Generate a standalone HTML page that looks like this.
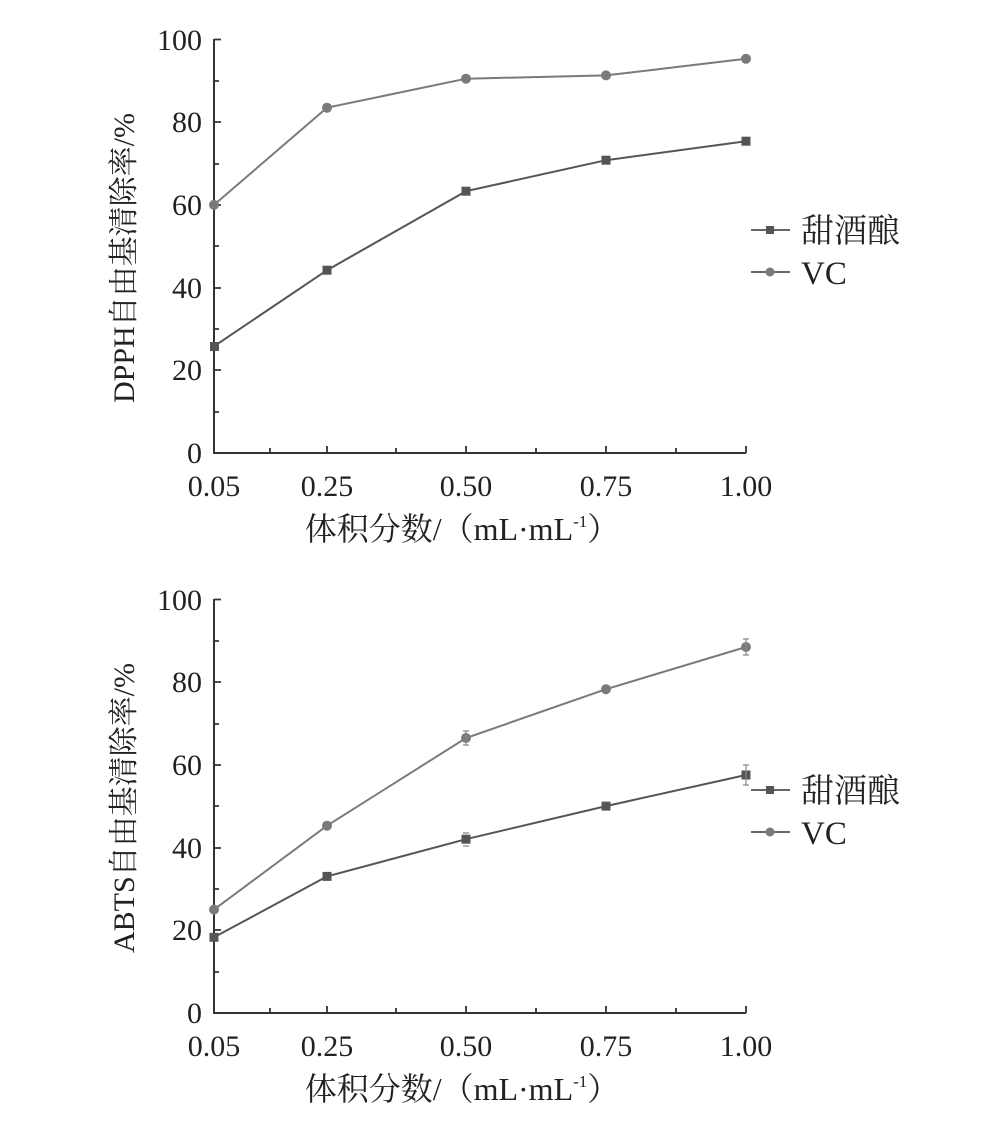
<!DOCTYPE html>
<html><head><meta charset="utf-8"><style>body{margin:0;background:#fff}</style></head><body>
<svg width="996" height="1121" viewBox="0 0 996 1121" xmlns="http://www.w3.org/2000/svg" font-family="Liberation Serif, Noto Serif CJK SC, serif" fill="#222">
<defs>
<g id="ax">
 <path d="M214 39V453H746" fill="none" stroke="#333" stroke-width="2"/>
 <g stroke="#333" stroke-width="1.8">
  <path d="M214 39.5h7M214 81h5M214 122h7M214 164h5M214 205h7M214 246h5M214 288h7M214 329h5M214 370h7M214 412h5"/>
  <path d="M270 453v-5M327 453v-7M396 453v-5M466 453v-7M536 453v-5M606 453v-7M676 453v-5M746 453v-7"/>
 </g>
 <g font-size="30" text-anchor="end">
  <text x="202" y="50">100</text><text x="202" y="132">80</text><text x="202" y="215">60</text><text x="202" y="298">40</text><text x="202" y="380">20</text><text x="202" y="463">0</text>
 </g>
 <g font-size="30" text-anchor="middle">
  <text x="214" y="496">0.05</text><text x="327" y="496">0.25</text><text x="466" y="496">0.50</text><text x="606" y="496">0.75</text><text x="746" y="496">1.00</text>
 </g>
 <text x="462" y="540" font-size="32" text-anchor="middle">体积分数/（mL·mL<tspan font-size="17" dy="-13">-1</tspan><tspan dy="13">）</tspan></text>
</g>
</defs>
<use href="#ax"/>
<text transform="translate(134,258) rotate(-90)" font-size="30" text-anchor="middle">DPPH自由基清除率/%</text>
<polyline points="214,204.9 327,107.7 466,78.7 606,75.4 746,58.8" fill="none" stroke="#7a7a7a" stroke-width="2"/>
<g fill="#7a7a7a"><circle cx="214" cy="204.9" r="5"/><circle cx="327" cy="107.7" r="5"/><circle cx="466" cy="78.7" r="5"/><circle cx="606" cy="75.4" r="5"/><circle cx="746" cy="58.8" r="5"/></g>
<polyline points="214,346.3 327,270.2 466,191.2 606,160.2 746,141.2" fill="none" stroke="#555" stroke-width="2"/>
<g fill="#555"><rect x="210" y="342" width="9" height="9"/><rect x="322.5" y="265.7" width="9" height="9"/><rect x="461.5" y="186.7" width="9" height="9"/><rect x="601.5" y="155.7" width="9" height="9"/><rect x="741.5" y="136.7" width="9" height="9"/></g>
<path d="M751 230h39M751 272h39" stroke="#666" stroke-width="2"/>
<rect x="766" y="226" width="8" height="8" fill="#555"/><circle cx="770" cy="272" r="4.5" fill="#7a7a7a"/>
<text x="801" y="242" font-size="33">甜酒酿</text><text x="801" y="284" font-size="33">VC</text>

<use href="#ax" y="560"/>
<text transform="translate(134,808) rotate(-90)" font-size="30" text-anchor="middle">ABTS自由基清除率/%</text>
<polyline points="214,909.6 327,825.7 466,738 606,689.2 746,647" fill="none" stroke="#7a7a7a" stroke-width="2"/>
<g fill="#7a7a7a"><circle cx="214" cy="909.6" r="5"/><circle cx="327" cy="825.7" r="5"/><circle cx="466" cy="738" r="5"/><circle cx="606" cy="689.2" r="5"/><circle cx="746" cy="647" r="5"/></g>
<polyline points="214,937.3 327,876.4 466,839.2 606,806.1 746,775" fill="none" stroke="#555" stroke-width="2"/>
<g fill="#555"><rect x="209.5" y="932.8" width="9" height="9"/><rect x="322.5" y="871.9" width="9" height="9"/><rect x="461.5" y="834.7" width="9" height="9"/><rect x="601.5" y="801.6" width="9" height="9"/><rect x="741.5" y="770.5" width="9" height="9"/></g>
<g stroke="#888" stroke-width="1.2" fill="none"><path d="M743 639h6M746 639v16M743 655h6M743 765h6M746 765v20M743 785h6M463 731h6M463 745h6M466 731v14M463 833h6M463 846h6"/></g>
<path d="M751 790h39M751 832h39" stroke="#666" stroke-width="2"/>
<rect x="766" y="786" width="8" height="8" fill="#555"/><circle cx="770" cy="832" r="4.5" fill="#7a7a7a"/>
<text x="801" y="802" font-size="33">甜酒酿</text><text x="801" y="844" font-size="33">VC</text>
</svg>
</body></html>
